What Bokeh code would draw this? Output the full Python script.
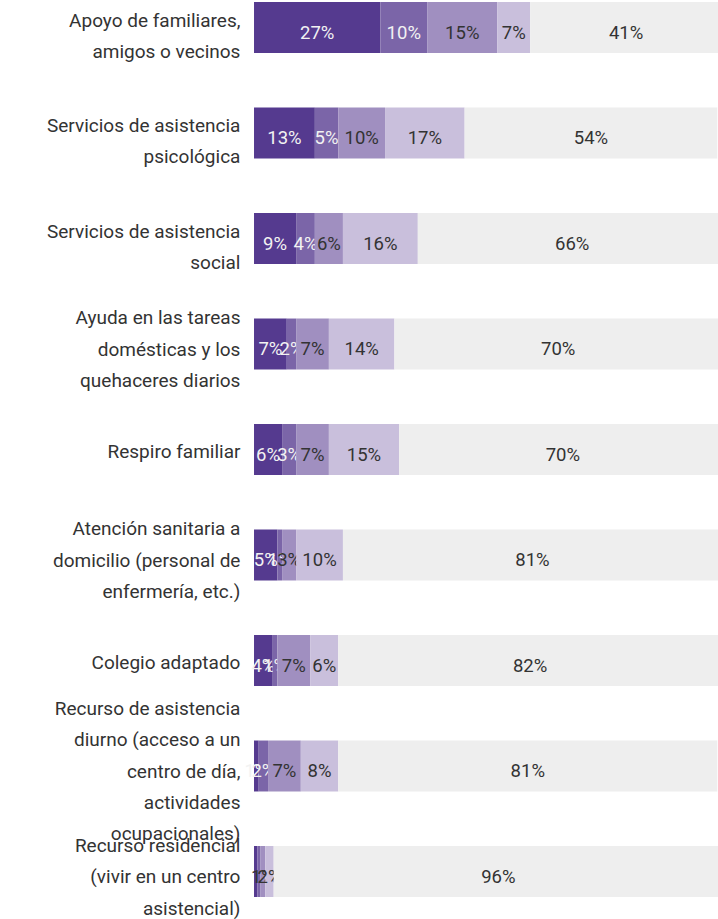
from bokeh.plotting import figure
from bokeh.models import ColumnDataSource, Range1d
from bokeh.core.properties import value
from bokeh.embed import file_html
from bokeh.resources import INLINE

categories = [
    "Apoyo de familiares,\namigos o vecinos",
    "Servicios de asistencia\npsicológica",
    "Servicios de asistencia\nsocial",
    "Ayuda en las tareas\ndomésticas y los\nquehaceres diarios",
    "Respiro familiar",
    "Atención sanitaria a\ndomicilio (personal de\nenfermería, etc.)",
    "Colegio adaptado",
    "Recurso de asistencia\ndiurno (acceso a un\ncentro de día,\nactividades\nocupacionales)",
    "Recurso residencial\n(vivir en un centro\nasistencial)",
]
s1 = [27, 13, 9, 7, 6, 5, 4, 1, 0.7]
s2 = [10, 5, 4, 2, 3, 1, 1, 2, 0.7]
s3 = [15, 10, 6, 7, 7, 3, 7, 7, 1]
s4 = [7, 17, 16, 14, 15, 10, 6, 8, 1.8]
s5 = [41, 54, 66, 70, 70, 81, 82, 81, 96]

series = [s1, s2, s3, s4, s5]
colors = ["#553a8f", "#7b65a8", "#a08fc0", "#c9bfdc", "#eeeeee"]
text_colors = ["#f2f2f2", "#f2f2f2", "#333333", "#333333", "#333333"]

rows = list(range(len(categories)))

p = figure(width=718, height=919, output_backend="svg", toolbar_location=None,
           x_range=Range1d(-54.17, 99.25), y_range=Range1d(8.455, -0.256),
           min_border=0, min_border_left=0, min_border_right=0,
           min_border_top=0, min_border_bottom=0)
p.axis.visible = False
p.grid.visible = False
p.outline_line_color = None
p.background_fill_color = "white"

left = [0.0] * len(rows)
for k, s in enumerate(series):
    right = [l + v for l, v in zip(left, s)]
    src = ColumnDataSource(dict(y=rows, left=left, right=right))
    p.hbar(y="y", left="left", right="right", height=0.483, source=src,
           fill_color=colors[k], line_color=None)
    lx, ly, lt = [], [], []
    for r, (a, b, v) in enumerate(zip(left, right, s)):
        if v >= 1:
            lx.append((a + b) / 2)
            ly.append(r + 0.05)
            lt.append(f"{round(v)}%")
    tsrc = ColumnDataSource(dict(x=lx, y=ly, t=lt))
    p.text(x="x", y="y", text="t", source=tsrc, text_align="center",
           text_baseline="middle", text_font=value("Roboto"),
           text_font_size="18.5px", text_color=text_colors[k])
    left = right

offsets = {1: 0.022, 2: 0.078}
cy = [r + offsets.get(c.count("\n") + 1, 0.05) for r, c in zip(rows, categories)]
csrc = ColumnDataSource(dict(x=[-2.9] * len(rows), y=cy, t=categories))
p.text(x="x", y="y", text="t", source=csrc, text_align="right",
       text_baseline="middle", text_font=value("Roboto"),
       text_font_size="19px", text_color="#333333", text_line_height=1.36)

open("out.html", "w").write(file_html(p, INLINE))
